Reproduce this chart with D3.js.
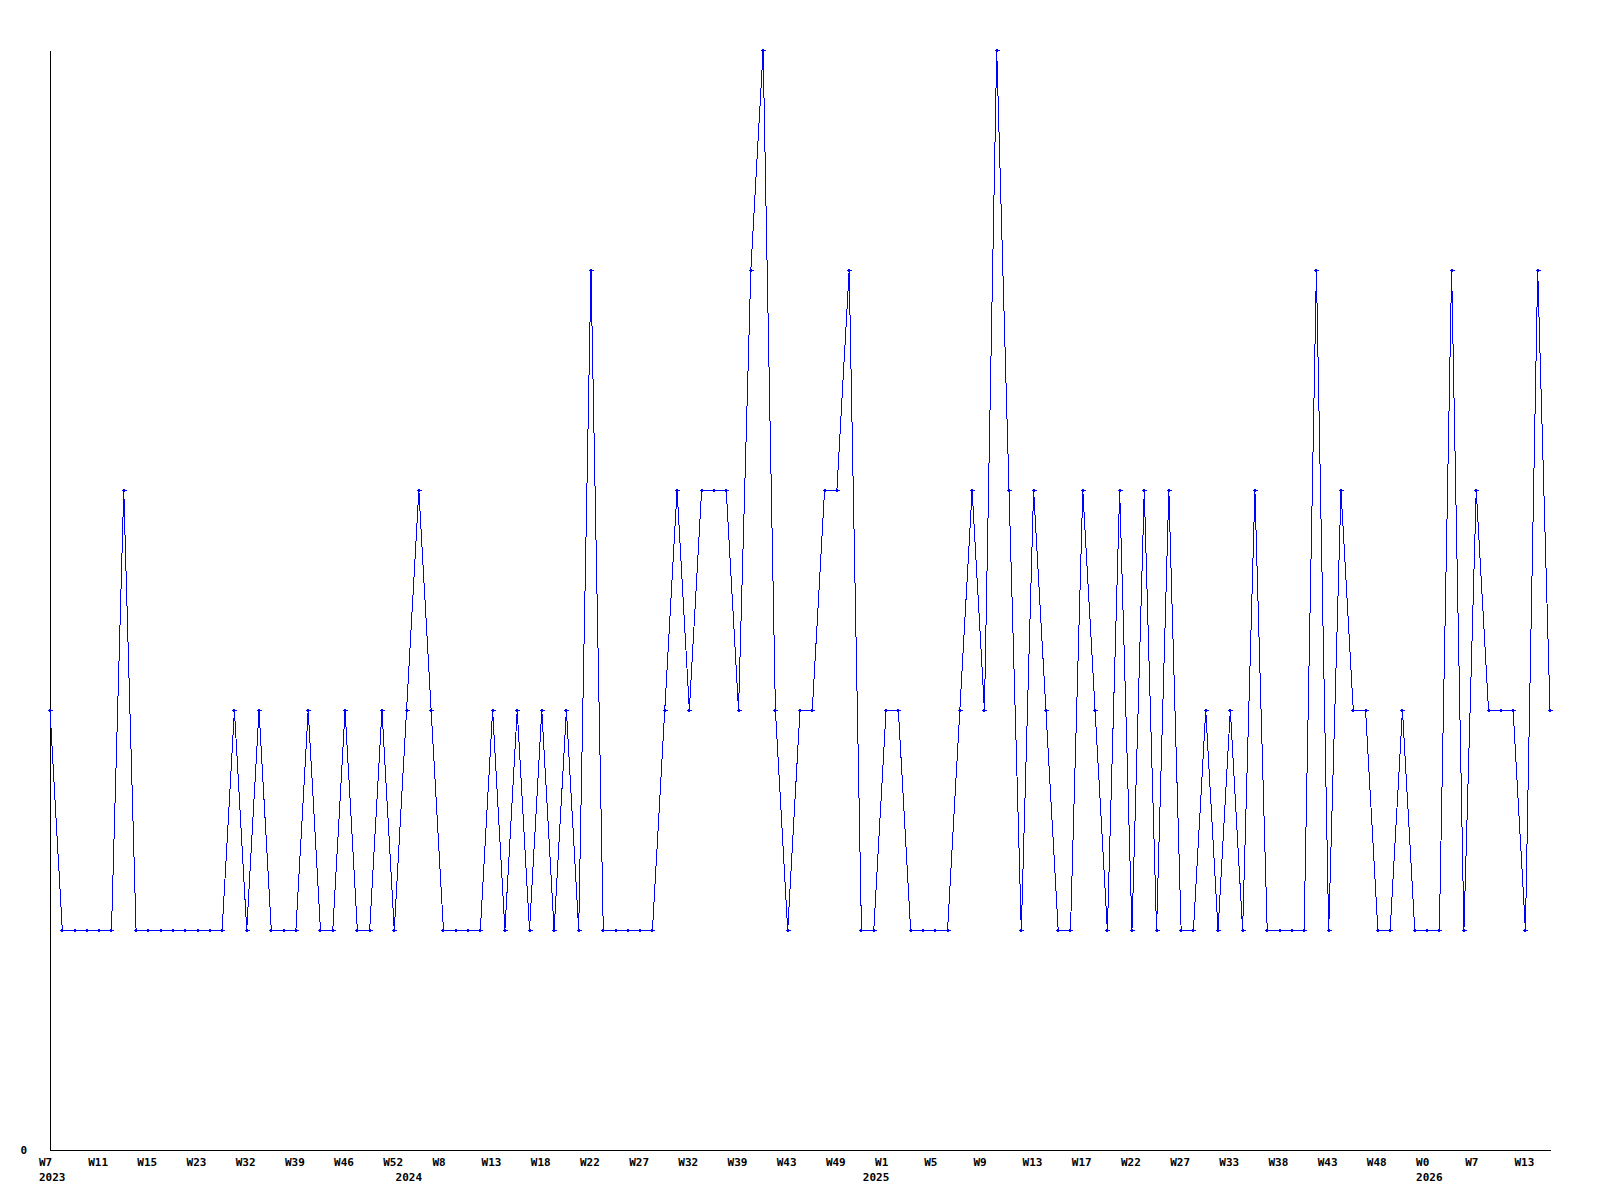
<!DOCTYPE html>
<html>
<head>
	<meta charset="utf-8">
	<title>Weekly chart</title>
	<script src="https://d3js.org/d3.v7.min.js"></script>
	<style>
	html, body {margin: 0; background: #fff; overflow: hidden}
	.axis line, .axis path {stroke: #000; shape-rendering: crispEdges}
	.lbl {font-family: "DejaVu Sans Mono", monospace; font-size: 11px; font-weight: bold; fill: #000}
	.series {fill: none; stroke: #0000ff; stroke-width: 1; shape-rendering: crispEdges}
	.dot {fill: #0000ff; shape-rendering: crispEdges}
	</style>
</head>
<body>
<script>
	// one value per point
	var values = [
		2, 1, 1, 1, 1, 1, 3, 1, 1, 1, 1, 1, 1, 1, 1, 2, 1, 2, 1, 1,
		1, 2, 1, 1, 2, 1, 1, 2, 1, 2, 3, 2, 1, 1, 1, 1, 2, 1, 2, 1,
		2, 1, 2, 1, 4, 1, 1, 1, 1, 1, 2, 3, 2, 3, 3, 3, 2, 4, 5, 2,
		1, 2, 2, 3, 3, 4, 1, 1, 2, 2, 1, 1, 1, 1, 2, 3, 2, 5, 3, 1,
		3, 2, 1, 1, 3, 2, 1, 3, 1, 3, 1, 3, 1, 1, 2, 1, 2, 1, 3, 1,
		1, 1, 1, 4, 1, 3, 2, 2, 1, 1, 2, 1, 1, 1, 4, 1, 3, 2, 2, 2,
		1, 4, 2
	];

	// a week label sits under every 4th point
	var tickStep = 4;
	var weekLabels = [
		"W7", "W11", "W15", "W23", "W32", "W39", "W46", "W52",
		"W8", "W13", "W18", "W22", "W27", "W32", "W39", "W43", "W49",
		"W1", "W5", "W9", "W13", "W17", "W22", "W27", "W33", "W38", "W43", "W48",
		"W0", "W7", "W13"
	];

	// first point of each year
	var yearIndex = [0, 29, 67, 112];
	var yearLabels = ["2023", "2024", "2025", "2026"];

	var width = 1600, height = 1200;
	var margin = {left: 50, right: 1550, top: 50, bottom: 1150};

	var svg = d3.select("body").append("svg")
		.attr("width", width)
		.attr("height", height);

	var x = d3.scaleLinear()
		.domain([0, values.length - 1])
		.range([margin.left, margin.right]);

	var y = d3.scaleLinear()
		.domain([0, 5])
		.range([margin.bottom, margin.top]);

	// axes: plain lines, no tick marks
	svg.append("g")
		.attr("class", "axis")
		.attr("transform", "translate(0," + margin.bottom + ")")
		.call(d3.axisBottom(x).tickValues([]).tickSizeOuter(0));

	svg.append("g")
		.attr("class", "axis")
		.attr("transform", "translate(" + margin.left + ",0)")
		.call(d3.axisLeft(y).tickValues([]).tickSizeOuter(0));

	svg.append("text")
		.attr("class", "lbl")
		.attr("x", 27)
		.attr("y", y(0) + 4)
		.attr("text-anchor", "end")
		.text("0");

	svg.selectAll(".week")
		.data(weekLabels)
		.enter().append("text")
		.attr("class", "lbl week")
		.attr("x", function(d, i){ return x(i * tickStep) - 11; })
		.attr("y", margin.bottom + 16)
		.text(function(d){ return d; });

	svg.selectAll(".year")
		.data(yearLabels)
		.enter().append("text")
		.attr("class", "lbl year")
		.attr("x", function(d, i){ return x(yearIndex[i]) - 11; })
		.attr("y", margin.bottom + 31)
		.text(function(d){ return d; });

	var line = d3.line()
		.x(function(d, i){ return x(i); })
		.y(function(d){ return y(d); });

	svg.append("path")
		.datum(values)
		.attr("class", "series")
		.attr("d", line);

	svg.selectAll(".dot")
		.data(values)
		.enter().append("path")
		.attr("class", "dot")
		.attr("transform", function(d, i){
			return "translate(" + Math.round(x(i)) + "," + Math.round(y(d)) + ")";
		})
		.attr("d", "M-2.5,-0.5h5v1h-5z M-1,-1.5h2v3h-2z");
</script>
</body>
</html>
